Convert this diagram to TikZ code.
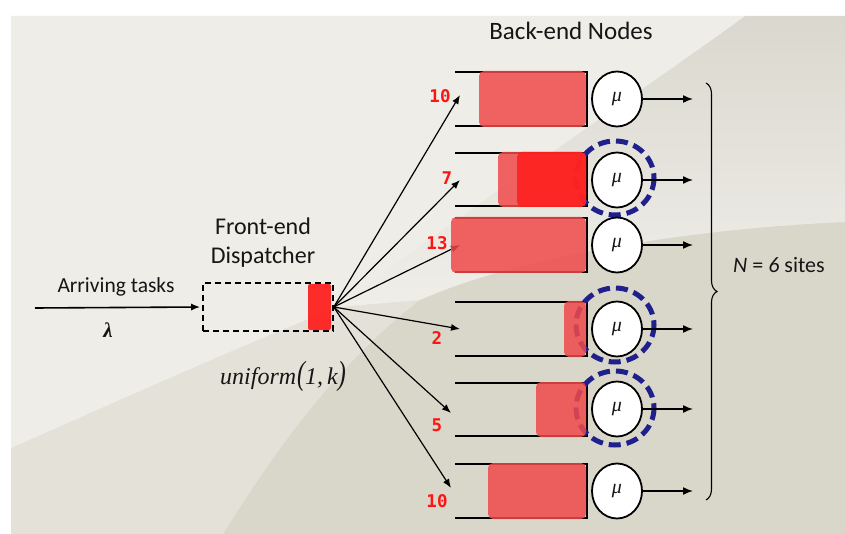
\documentclass[tikz,border=0pt]{standalone}
\usepackage{graphicx}
\usepackage{fontspec}
\setmainfont{Carlito}
\newfontfamily\libserif{Liberation Serif}
\newfontfamily\dvmono{DejaVu Sans Mono}
\usetikzlibrary{arrows.meta,decorations.pathreplacing,shapes.geometric}
\definecolor{bgL}{HTML}{EEEDE7}
\definecolor{bgM}{HTML}{E4E2D8}
\definecolor{bgD}{HTML}{D9D6CA}
\definecolor{bgFtop}{HTML}{DAD8CE}
\definecolor{bgFbot}{HTML}{EFEEE9}
\definecolor{qred}{HTML}{F04A4A}
\definecolor{qbright}{HTML}{FF1C1C}
\definecolor{ringblue}{HTML}{20208C}
\definecolor{lblred}{HTML}{FF1414}
\definecolor{txt}{HTML}{161616}
\begin{document}
\begin{tikzpicture}[x=1pt,y=-1pt,
  qline/.style={line width=1.8pt},
  qbox/.style={fill=qred, fill opacity=0.85, rounded corners=5pt},
  brightbox/.style={fill=qbright, fill opacity=0.85, rounded corners=5pt},
  server/.style={ellipse, draw, line width=1.8pt, fill=white, minimum width=50pt, minimum height=55pt, inner sep=0pt, font=\libserif\itshape\fontsize{20}{20}\selectfont, text=txt},
  ring/.style={draw=ringblue, line width=5pt, dash pattern=on 12pt off 6pt},
  outarrow/.style={line width=1.5pt, -{Latex[length=10pt,width=8pt]}},
  fanarrow/.style={line width=1.2pt, -{Latex[length=9pt,width=7pt]}},
  count/.style={font=\dvmono\bfseries\fontsize{17.5}{17.5}\selectfont, text=lblred, inner sep=0pt},
  lbl/.style={text=txt, inner sep=0pt},
  disp/.style={draw, line width=1.6pt, dash pattern=on 6pt off 4pt, minimum width=130pt, minimum height=48pt, inner sep=0pt},
]
\useasboundingbox (0,0) rectangle (845,534);
\fill[white] (0,0) rectangle (845,534);
% background
\fill[bgM] (11,16) rectangle (845,534);
\fill[bgD] (223,534) .. controls (270,460) and (330,370) .. (420,300) .. controls (520,255) and (700,228) .. (845,222) -- (845,534) -- cycle;
\shade[top color=bgFtop, bottom color=bgFbot] (745,16) -- (845,16) -- (845,222) .. controls (700,228) and (520,255) .. (420,300) -- (338,307) .. controls (480,200) and (650,85) .. (745,16) -- cycle;
\fill[bgL] (11,16) -- (745,16) .. controls (650,85) and (480,200) .. (338,307) .. controls (230,350) and (120,400) .. (11,448) -- cycle;

% titles
\node[lbl, font=\fontsize{25}{25}\selectfont] (title) at (571,31) {Back-end Nodes};
\node[lbl, align=center, font=\fontsize{24}{29}\selectfont] (fetitle) at (263,243) {Front-end\\Dispatcher};
\node[lbl, font=\fontsize{21.5}{22}\selectfont] (arr) at (116,287) {Arriving tasks};
\node[lbl, font=\libserif\bfseries\itshape\fontsize{21}{21}\selectfont] (lam) at (108,330) {λ};
\node[lbl, font=\libserif\itshape\fontsize{24}{24}\selectfont] (unif) at (283,376) {uniform\kern1pt\scalebox{1}[1.4]{(}1,\,k\scalebox{1}[1.4]{)}};
\node[lbl, font=\fontsize{22}{22}\selectfont] (nsites) at (779,265) {{\itshape N} = {\itshape 6} sites};

% dispatcher
\node[disp] (fe) at (268,307) {};
\fill[qbright, opacity=0.92, rounded corners=2pt] (308,284) rectangle (331,330);
\coordinate (src) at (35,308);
\draw[line width=1.6pt, -{Latex[length=9pt,width=7pt]}] (src) -- ([xshift=-2pt]fe.west);

% queue lines
\foreach \t/\b in {72/126, 153/206, 218/272, 302/356, 383/436, 464/518}{
  \draw[qline] (455,\t) -- (587,\t) -- (587,\b) -- (455,\b);
}

% fan arrows
\coordinate (t1) at (460,95);
\coordinate (t2) at (460,180);
\coordinate (t3) at (460,245);
\coordinate (t4) at (460,329);
\coordinate (t5) at (451,413);
\coordinate (t6) at (451,488);
\foreach \i in {1,...,6}{ \draw[fanarrow] (fe.east) -- (t\i); }

% rings
\draw[ring] (615,178) ellipse [x radius=39, y radius=37];
\draw[ring] (615,325) ellipse [x radius=39, y radius=37];
\draw[ring] (615,408) ellipse [x radius=39, y radius=37];

% red boxes
\fill[qbox] (479,71) rectangle (586,127);
\fill[qbox] (498,152) rectangle (586,207);
\fill[brightbox] (517,152) rectangle (586,207);
\fill[qbox] (451,217) rectangle (586,273);
\fill[qbox] (564,301) rectangle (586,357);
\fill[qbox] (536,382) rectangle (586,437);
\fill[qbox] (488,463) rectangle (586,519);

% servers and outputs
\foreach \i/\y in {1/99, 2/180, 3/245, 4/329, 5/409, 6/491}{
  \node[server] (s\i) at (617,\y) {μ};
  \coordinate (o\i) at (693,\y);
  \draw[outarrow] (s\i.east) -- (o\i);
}

% counts
\node[count] (c1) at (440,96) {10};
\node[count] (c2) at (447,178) {7};
\node[count] (c3) at (437,243) {13};
\node[count] (c4) at (437,338) {2};
\node[count] (c5) at (437,425) {5};
\node[count] (c6) at (437,501) {10};

% brace
\coordinate (bt) at (706,83);
\coordinate (bb) at (706,500);
\draw[line width=1.1pt, decorate, decoration={brace, amplitude=11pt}] (bt) -- (bb);
\end{tikzpicture}
\end{document}
